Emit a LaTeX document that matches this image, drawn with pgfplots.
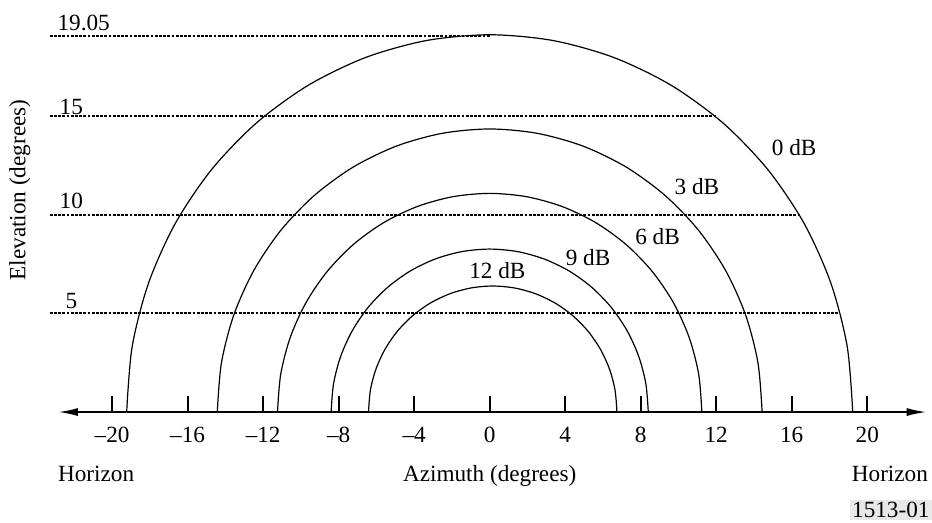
\documentclass[border=0pt]{standalone}
\usepackage{pgfplots}
\pgfplotsset{compat=1.18}
\usepackage{fontspec}
\setmainfont{Liberation Serif}
\usetikzlibrary{arrows.meta}
\tikzset{axtip/.tip={Latex[length=10pt,width=4pt]}}

\begin{document}
\begin{tikzpicture}[font=\fontsize{11.6}{13}\selectfont]
\begin{axis}[
    x=9.4375pt, y=9.875pt,
    xmin=-22.87, xmax=23.15, ymin=0, ymax=19.1,
    axis x line=bottom, axis y line=none,
    x axis line style={axtip-axtip, line width=1pt},
    xtick={-20,-16,-12,-8,-4,0,4,8,12,16,20},
    xticklabels={–20,–16,–12,–8,–4,0,4,8,12,16,20},
    xtick align=inside,
    major tick length=8pt,
    xtick style={line width=1pt, black},
    xticklabel style={yshift=-4pt},
    clip=false,
    elev/.style={black, line width=1pt, dash pattern=on 1.4pt off 0.7pt},
    arc/.style={black, line width=0.6pt, smooth},
]
% dotted elevation lines
\addplot[elev] coordinates {(-23.3,19.05) (0,19.05)};
\addplot[elev] coordinates {(-23.3,15) (12.0,15)};
\addplot[elev] coordinates {(-23.3,10) (16.49,10)};
\addplot[elev] coordinates {(-23.3,5) (18.47,5)};

% 0 dB
\addplot[arc] coordinates {
(19.23,0) (18.938,3.317) (18.070,6.533) (16.654,9.55) (14.731,12.277) (12.361,14.631)
(9.615,16.541) (6.577,17.948) (3.339,18.810) (0,19.1)
(-3.339,18.810) (-6.577,17.948) (-9.615,16.541) (-12.361,14.631) (-14.731,12.277)
(-16.654,9.55) (-18.070,6.533) (-18.938,3.317) (-19.23,0)};
% 3 dB
\addplot[arc] coordinates {
(14.43,0) (14.211,2.488) (13.560,4.901) (12.497,7.165) (11.054,9.211) (9.275,10.977)
(7.215,12.410) (4.935,13.466) (2.506,14.112) (0,14.33)
(-2.506,14.112) (-4.935,13.466) (-7.215,12.410) (-9.275,10.977) (-11.054,9.211)
(-12.497,7.165) (-13.560,4.901) (-14.211,2.488) (-14.43,0)};
% 6 dB
\addplot[arc] coordinates {
(11.24,0) (11.069,1.922) (10.562,3.786) (9.734,5.535) (8.610,7.116) (7.225,8.480)
(5.62,9.587) (3.844,10.402) (1.952,10.902) (0,11.07)
(-1.952,10.902) (-3.844,10.402) (-5.62,9.587) (-7.225,8.480) (-8.610,7.116)
(-9.734,5.535) (-10.562,3.786) (-11.069,1.922) (-11.24,0)};
% 9 dB
\addplot[arc] coordinates {
(8.4,0) (8.272,1.433) (7.893,2.822) (7.275,4.125) (6.435,5.303) (5.399,6.320)
(4.2,7.145) (2.873,7.752) (1.459,8.125) (0,8.25)
(-1.459,8.125) (-2.873,7.752) (-4.2,7.145) (-5.399,6.320) (-6.435,5.303)
(-7.275,4.125) (-7.893,2.822) (-8.272,1.433) (-8.4,0)};
% 12 dB
\addplot[arc] coordinates {
(6.74,0) (6.64,1.108) (6.343,2.182) (5.858,3.19) (5.201,4.101) (4.39,4.887)
(3.45,5.525) (2.41,5.995) (1.303,6.283) (0.16,6.38)
(-0.983,6.283) (-2.09,5.995) (-3.13,5.525) (-4.07,4.887) (-4.881,4.101)
(-5.538,3.19) (-6.023,2.182) (-6.32,1.108) (-6.42,0)};

\node at (axis cs:16.13,13.37) {0 dB};
\node at (axis cs:10.98,11.42) {3 dB};
\node at (axis cs:8.89,8.89) {6 dB};
\node at (axis cs:5.21,7.8) {9 dB};
\node at (axis cs:0.41,7.14) {12 dB};

\node[anchor=base west, inner sep=0pt] at (axis cs:-22.91,19.34) {19.05};
\node[anchor=base west, inner sep=0pt] at (axis cs:-22.8,15.04) {15};
\node[anchor=base west, inner sep=0pt] at (axis cs:-22.8,10.28) {10};
\node[anchor=base west, inner sep=0pt] at (axis cs:-22.49,5.22) {5};

\node[rotate=90] at (axis cs:-24.89,11.24) {Elevation (degrees)};

\node[anchor=base, inner sep=0pt] at (axis cs:-20.85,-3.54) {Horizon};
\node[anchor=base, inner sep=0pt] at (axis cs:0,-3.54) {Azimuth (degrees)};
\node[anchor=base, inner sep=0pt] at (axis cs:21.2,-3.54) {Horizon};
\node[fill=black!9, inner sep=1pt] at (axis cs:21.25,-4.96) {1513-01};

\coordinate (bl) at (axis cs:-25.94,-5.57);
\coordinate (tr) at (axis cs:23.43,20.86);
\end{axis}
\pgfresetboundingbox
\path[use as bounding box] (bl) rectangle (tr);
\end{tikzpicture}
\end{document}
